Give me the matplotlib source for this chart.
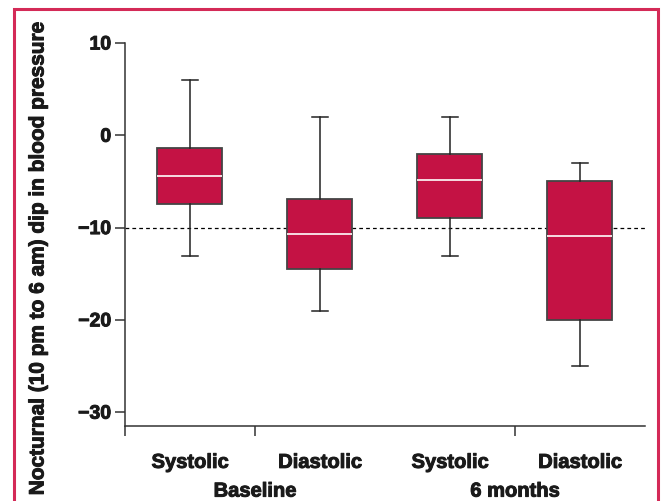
import matplotlib
matplotlib.use("Agg")
import matplotlib.pyplot as plt
import matplotlib.patheffects as pe
from matplotlib.patches import Rectangle

# box plot summary values
labels = ["Systolic", "Diastolic", "Systolic", "Diastolic"]
groups = ["Baseline", "6 months"]
whisker_hi = [6.0, 2.0, 2.0, -3.0]
q3 = [-1.4, -6.9, -2.0, -5.0]
medians = [-4.4, -10.7, -4.9, -10.9]
q1 = [-7.4, -14.5, -9.0, -20.0]
whisker_lo = [-13.1, -19.0, -13.1, -25.0]
ref_line = -10

crimson = "#C41244"
txt = "#1A1A1A"

def main():
    plt.rcParams['font.family'] = ['Liberation Sans', 'DejaVu Sans']
    plt.rcParams['font.weight'] = 'bold'
    heavy = [pe.withStroke(linewidth=0.7, foreground=txt)]

    fig = plt.figure(figsize=(6.62, 5.02), dpi=100, facecolor='w')
    ax = fig.add_axes([0.1888, 0.1494, 0.7855, 0.763])

    stats = []
    for i in range(len(labels)):
        stats.append(dict(med=medians[i], q1=q1[i], q3=q3[i],
                          whislo=whisker_lo[i], whishi=whisker_hi[i], fliers=[]))
    pos = [1, 2, 3, 4]
    ax.bxp(stats, positions=pos, widths=0.5, patch_artist=True, showfliers=False,
           boxprops=dict(facecolor=crimson, edgecolor='#444444', lw=1.3),
           medianprops=dict(color='#F6DCE2', lw=1.4),
           whiskerprops=dict(color='#222222', lw=1.1),
           capprops=dict(color='#222222', lw=1.1),
           capwidths=0.12, zorder=3)

    ax.axhline(ref_line, color='black', ls=(0, (3, 2.5)), lw=0.9, zorder=2)

    ax.set_xlim(0.5, 4.5)
    ax.set_ylim(-31.5, 10)
    ax.set_yticks([10, 0, -10, -20, -30])
    ax.set_yticklabels(['10', '0', '\u221210', '\u221220', '\u221230'])
    ax.set_xticks([0.5, 1.5, 3.5])
    ax.set_xticklabels([])
    for s in ['top', 'right']:
        ax.spines[s].set_visible(False)
    for s in ['left', 'bottom']:
        ax.spines[s].set_color('#333333')
        ax.spines[s].set_linewidth(1.1)
    ax.tick_params(axis='y', direction='out', length=7, width=1.1, color='#333333',
                   labelsize=14, pad=3, labelcolor=txt)
    ax.tick_params(axis='x', direction='out', length=7, width=1.1, color='#333333')
    for t in ax.get_yticklabels():
        t.set_path_effects(heavy)

    tr = ax.get_xaxis_transform()
    for p, lab in zip(pos, labels):
        ax.text(p, -0.095, lab, transform=tr, ha='center', va='center',
                fontsize=14.5, fontweight='bold', color=txt, path_effects=heavy)
    for p, g in zip([1.5, 3.5], groups):
        ax.text(p, -0.17, g, transform=tr, ha='center', va='center',
                fontsize=14.5, fontweight='bold', color=txt, path_effects=heavy)

    fig.text(38/662, 1 - 258.5/502, 'Nocturnal (10 pm to 6 am) dip in blood pressure',
             rotation=90, ha='center', va='center', fontsize=15,
             fontweight='bold', color=txt, path_effects=heavy)

    # crimson frame round the figure
    fig.patches.append(Rectangle((14/662, -0.02), 644/662, 0.02 + 1 - 10/502,
                                 transform=fig.transFigure, fill=False,
                                 edgecolor='#D42A57', lw=2.2, clip_on=False))

    fig.savefig('out.png', dpi=100, facecolor='w')

if __name__ == '__main__':
    main()
